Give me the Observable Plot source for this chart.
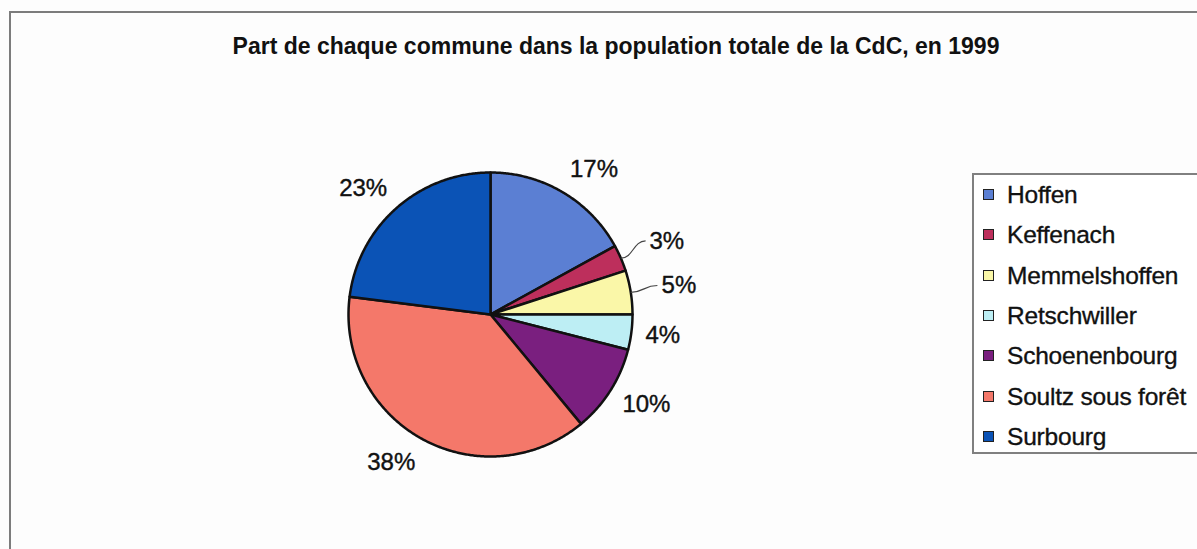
<!DOCTYPE html>
<html>
<head>
<meta charset="utf-8">
<script src="https://cdn.jsdelivr.net/npm/d3@7"></script>
<script src="https://cdn.jsdelivr.net/npm/@observablehq/plot@0.6"></script>
<style>
  html, body { margin: 0; padding: 0; background: #fff; overflow: hidden; }
  #wrap { position: relative; width: 1197px; height: 549px; overflow: hidden; background: #fdfdfd;
          font-family: "Liberation Sans", Arial, sans-serif; color: #111; }
  #frame { position: absolute; left: 9px; top: 11px; width: 1300px; height: 700px;
           border: 2px solid #7c7c7c; box-sizing: border-box; }
  #title { position: absolute; left: 0; width: 1232px; top: 33px; text-align: center;
           font-weight: bold; font-size: 23px; line-height: 26px; letter-spacing: 0px; color: #111; }
  #chart { position: absolute; left: 0; top: 0; }
  #legend { position: absolute; left: 972px; top: 173px; width: 320px; height: 281px;
            border: 2px solid #808080; box-sizing: border-box; background: #fff; }
  .item { position: absolute; left: 0; height: 28px; line-height: 28px; font-size: 24.5px; white-space: nowrap;
          -webkit-text-stroke: 0.35px #111; }
  .sw { position: absolute; left: 9px; top: 8px; width: 9px; height: 9px; border: 1px solid #222; }
  .lab { position: absolute; left: 33px; top: 0; letter-spacing: -0.2px; }
</style>
</head>
<body>
<div id="wrap">
  <div id="frame"></div>
  <div id="chart"></div>
  <div id="title"></div>
  <div id="legend"></div>
</div>
<script>
const titleText = "Part de chaque commune dans la population totale de la CdC, en 1999";
const names = ["Hoffen", "Keffenach", "Memmelshoffen", "Retschwiller", "Schoenenbourg", "Soultz sous forêt", "Surbourg"];
const shares = [17, 3, 5, 4, 10, 38, 23];
const colors = ["#5b7fd3", "#bd2f5c", "#faf7a8", "#bdeef4", "#7a1f7f", "#f4786a", "#0b53b6"];
const withLeader = ["Keffenach", "Memmelshoffen"];

const rows = names.map((name, i) => ({name, share: shares[i]}));
const arcs = d3.pie().sort(null).value(d => d.share)(rows);

// slice outlines (unit circle, angle from 12 o'clock clockwise)
const polys = [];
arcs.forEach(a => {
  const name = a.data.name;
  polys.push({name, x: 0, y: 0});
  const n = Math.max(4, Math.ceil((a.endAngle - a.startAngle) / (Math.PI / 360)));
  for (let k = 0; k <= n; k++) {
    const t = a.startAngle + (a.endAngle - a.startAngle) * k / n;
    polys.push({name, x: Math.sin(t), y: Math.cos(t)});
  }
  polys.push({name, x: 0, y: 0});
});

// labels
const labels = arcs.map(a => {
  const m = (a.startAngle + a.endAngle) / 2;
  const lead = withLeader.includes(a.data.name);
  const r = lead ? 1.22 : 1.1;
  return {
    name: a.data.name,
    text: a.data.share + "%",
    side: Math.sin(m) >= 0 ? "right" : "left",
    x: r * Math.sin(m),
    y: (r + 0.085) * Math.cos(m),
    lx1: Math.sin(m), ly1: Math.cos(m),
    lx2: (r - 0.03) * Math.sin(m), ly2: (r + 0.085) * Math.cos(m),
    lead
  };
});

const cx = 490, cy = 314, R = 142, W = 1197, H = 549;

const plot = Plot.plot({
  width: W,
  height: H,
  marginLeft: cx - R,
  marginRight: W - (cx + R),
  marginTop: cy - R,
  marginBottom: H - (cy + R),
  x: {domain: [-1, 1], axis: null},
  y: {domain: [-1, 1], axis: null},
  color: {domain: names, range: colors},
  style: {fontFamily: "'Liberation Sans', Arial, sans-serif", background: "transparent", overflow: "visible"},
  marks: [
    Plot.line(polys, {x: "x", y: "y", z: "name", fill: "name", stroke: "#111", strokeWidth: 2.5, strokeLinejoin: "round"}),
    Plot.link(labels.filter(d => d.lead), {x1: "lx1", y1: "ly1", x2: "lx2", y2: "ly2", stroke: "#444", strokeWidth: 1.2, curve: "bump-x"}),
    Plot.text(labels.filter(d => d.side === "right"), {x: "x", y: "y", text: "text", textAnchor: "start", fontSize: 24, fill: "#111", stroke: "#111", strokeWidth: 0.4}),
    Plot.text(labels.filter(d => d.side === "left"), {x: "x", y: "y", text: "text", textAnchor: "end", fontSize: 24, fill: "#111", stroke: "#111", strokeWidth: 0.4})
  ]
});
document.getElementById("chart").appendChild(plot);
document.getElementById("title").textContent = titleText;

const legend = document.getElementById("legend");
names.forEach((name, i) => {
  const it = document.createElement("div");
  it.className = "item";
  it.style.top = (6 + i * 40.3) + "px";
  const sw = document.createElement("div");
  sw.className = "sw";
  sw.style.background = colors[i];
  const lab = document.createElement("div");
  lab.className = "lab";
  lab.textContent = name;
  it.appendChild(sw);
  it.appendChild(lab);
  legend.appendChild(it);
});
</script>
</body>
</html>
